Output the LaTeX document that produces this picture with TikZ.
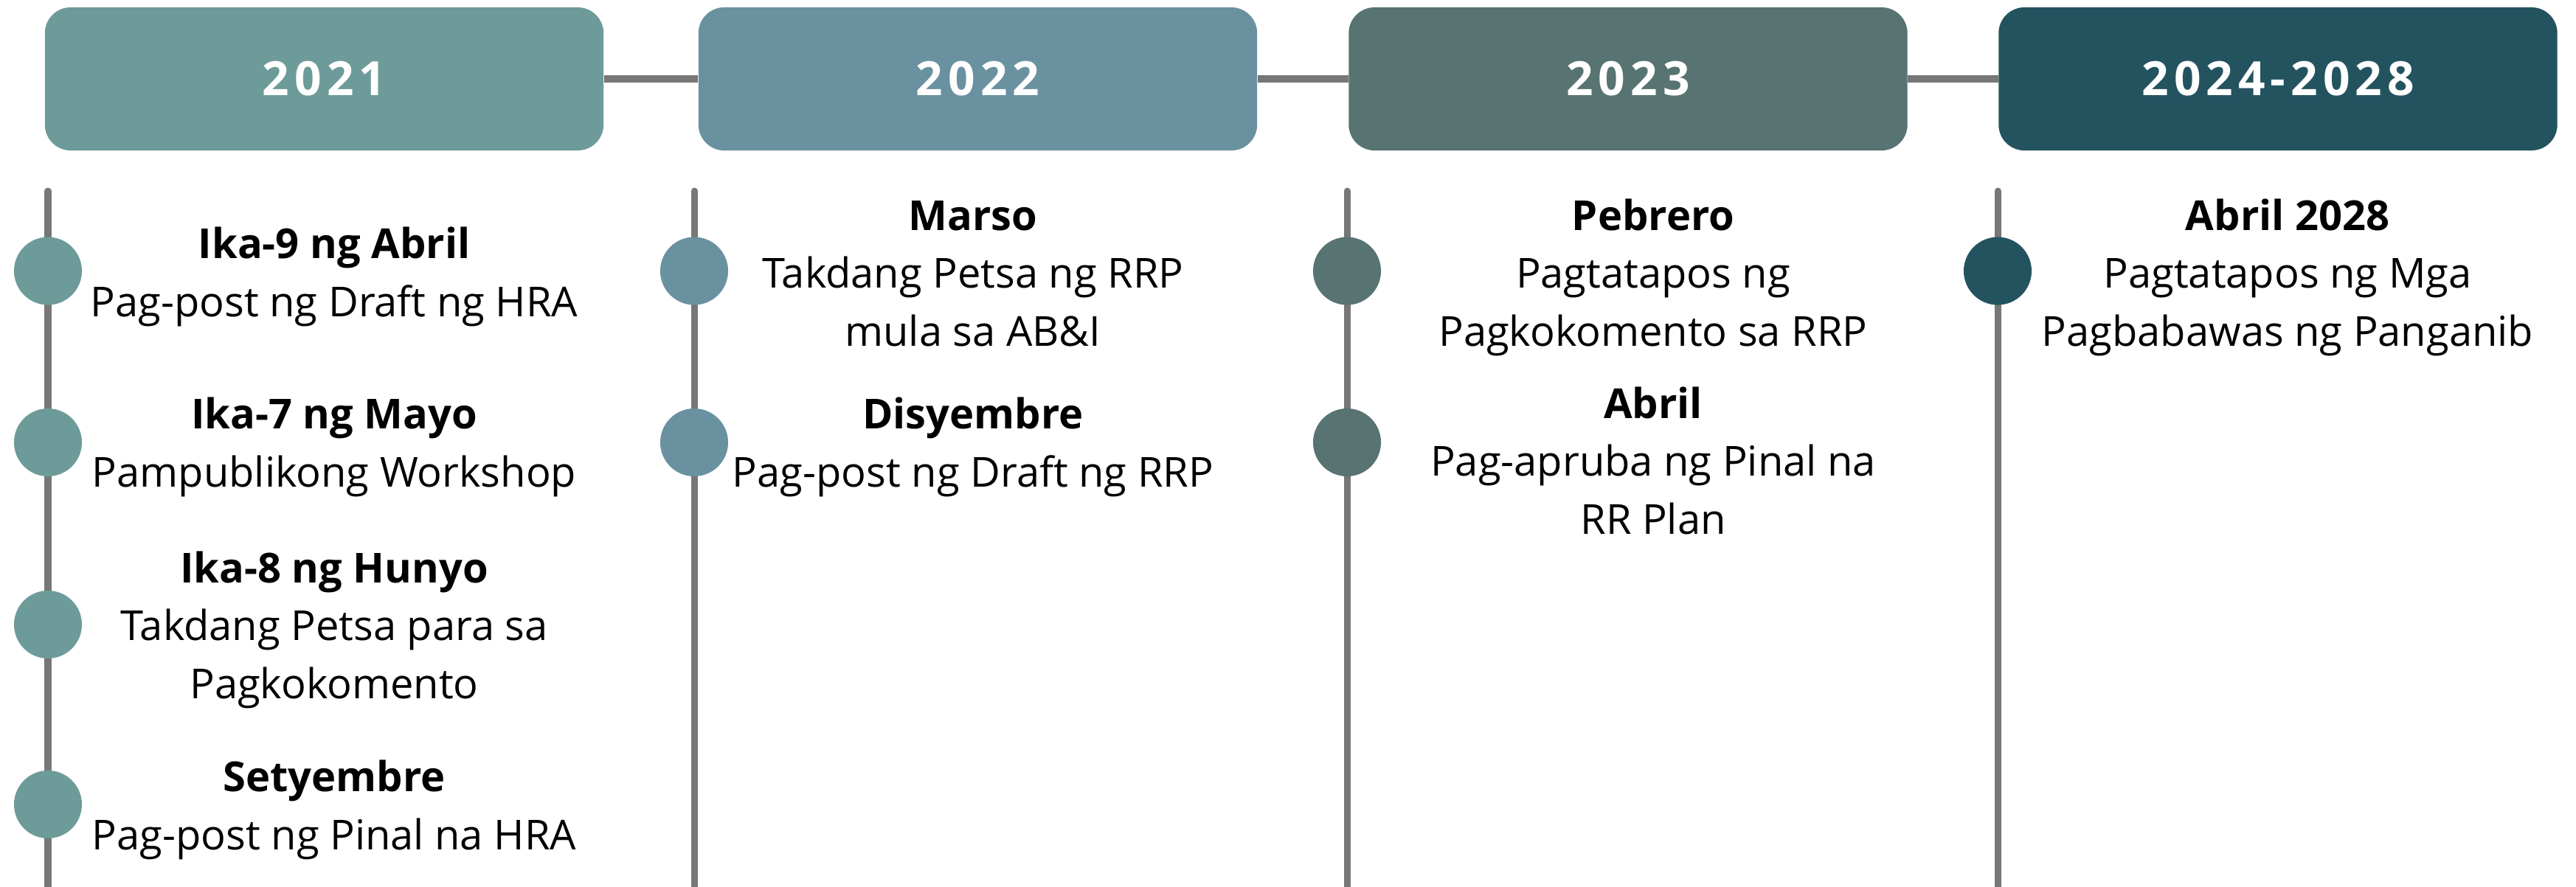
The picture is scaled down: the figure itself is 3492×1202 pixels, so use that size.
\documentclass[tikz,border=0pt]{standalone}
\usepackage{fontspec}
\setmainfont{Open Sans}
\newfontfamily\yearfont[LetterSpace=11]{Open Sans}
\definecolor{tealA}{HTML}{6D9B99}
\definecolor{tealB}{HTML}{6A91A0}
\definecolor{tealC}{HTML}{577372}
\definecolor{tealD}{HTML}{245360}
\definecolor{stemgray}{HTML}{777777}
\begin{document}
\begin{tikzpicture}[x=0.01cm,y=-0.01cm,
    yearbox/.style={rounded corners=0.35cm,minimum width=7.57cm,minimum height=1.94cm,
      inner sep=0pt,text=white,font=\yearfont\bfseries\fontsize{18.2}{22}\selectfont},
    dot/.style={circle,minimum size=0.92cm,inner sep=0pt},
    entry/.style={align=center,anchor=base,font=\fontsize{15.93}{22.2}\selectfont},
    stem/.style={stemgray,line width=0.09cm,line cap=round},
    link/.style={stemgray,line width=0.1cm}]
  \useasboundingbox (0,0) rectangle (3492,1202);
  % year boxes
  \node[yearbox,fill=tealA] (y2021) at (439.5,107) {2021};
  \node[yearbox,fill=tealB] (y2022) at (1325.5,107) {2022};
  \node[yearbox,fill=tealC] (y2023) at (2207,107) {2023};
  \node[yearbox,fill=tealD] (y2024) at (3088,107) {2024-2028};
  \draw[link] (y2021) -- (y2022);
  \draw[link] (y2022) -- (y2023);
  \draw[link] (y2023) -- (y2024);
  % stems
  \foreach \x in {65,941,1826,2708}
    \draw[stem] (\x,259) -- (\x,1210);
  % 2021 (entries placed at the baseline of their last line)
  \node[dot,fill=tealA] (d11) at (65,367.5) {};
  \node[dot,fill=tealA] (d12) at (65,600) {};
  \node[dot,fill=tealA] (d13) at (65,847) {};
  \node[dot,fill=tealA] (d14) at (65,1091) {};
  \node[entry] (e11) at (453,429) {\textbf{Ika-9 ng Abril}\\Pag-post ng Draft ng HRA};
  \node[entry] (e12) at (453,660) {\textbf{Ika-7 ng Mayo}\\Pampublikong Workshop};
  \node[entry] (e13) at (453,947) {\textbf{Ika-8 ng Hunyo}\\Takdang Petsa para sa\\Pagkokomento};
  \node[entry] (e14) at (453,1152) {\textbf{Setyembre}\\Pag-post ng Pinal na HRA};
  % 2022
  \node[dot,fill=tealB] (d21) at (941,367.5) {};
  \node[dot,fill=tealB] (d22) at (941,600) {};
  \node[entry] (e21) at (1319,469) {\textbf{Marso}\\Takdang Petsa ng RRP\\mula sa AB\&I};
  \node[entry] (e22) at (1319,660) {\textbf{Disyembre}\\Pag-post ng Draft ng RRP};
  % 2023
  \node[dot,fill=tealC] (d31) at (1826,367.5) {};
  \node[dot,fill=tealC] (d32) at (1826,600) {};
  \node[entry] (e31) at (2241,469) {\textbf{Pebrero}\\Pagtatapos ng\\Pagkokomento sa RRP};
  \node[entry] (e32) at (2241,724) {\textbf{Abril}\\Pag-apruba ng Pinal na\\RR Plan};
  % 2024-2028
  \node[dot,fill=tealD] (d41) at (2708,367.5) {};
  \node[entry] (e41) at (3101,469) {\textbf{Abril 2028}\\Pagtatapos ng Mga\\Pagbabawas ng Panganib};
\end{tikzpicture}
\end{document}
